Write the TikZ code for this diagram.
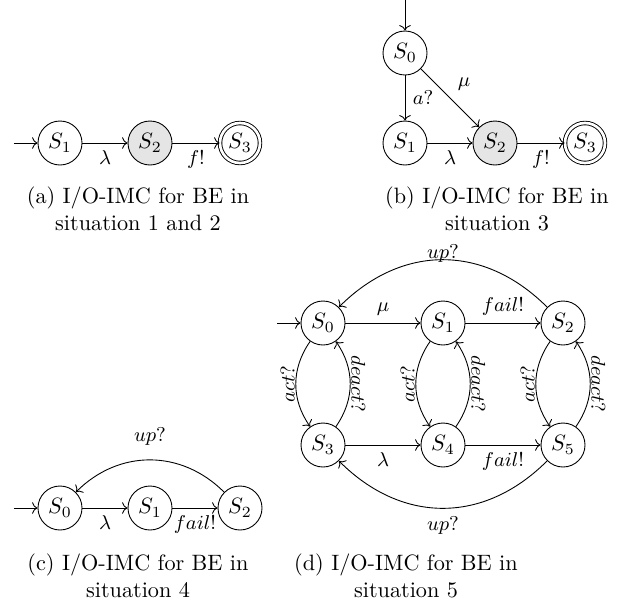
\documentclass[tikz,border=0pt]{standalone}
\usepackage{amsmath}
\usetikzlibrary{arrows.meta,positioning}

\begin{document}
\begin{tikzpicture}[
  x=0.45pt,y=-0.45pt,
  state/.style={draw,circle,minimum size=19.8pt,inner sep=0pt},
  hit/.style={state,fill=black!10},
  final/.style={state,double,double distance=1.2pt,minimum size=18pt},
  arr/.style={->},
  lbl/.style={font=\small},
  vlbl/.style={font=\small,anchor=south,inner sep=0.3pt},
  subcap/.style={align=center},
  on grid,node distance=40.5pt
]
\useasboundingbox (0,0) rectangle (622,600);

\node[state] (a1) at (60,143) {$S_1$};
\node[hit,right=of a1] (a2) {$S_2$};
\node[final,right=of a2] (a3) {$S_3$};
\coordinate[left=20.7pt of a1] (ain);
\draw[arr] (ain) -- (a1);
\draw[arr] (a1) -- node[lbl,below]{$\lambda$} (a2);
\draw[arr] (a2) -- node[lbl,below]{$f!$} (a3);
\node[subcap] (capa) at (138,209) {(a) I/O-IMC for BE in\\situation 1 and 2};

\node[state] (b0) at (405,53) {$S_0$};
\node[state,below=of b0] (b1) {$S_1$};
\node[hit,right=of b1] (b2) {$S_2$};
\node[final,right=of b2] (b3) {$S_3$};
\coordinate[above=23.85pt of b0] (bin);
\draw[arr] (bin) -- (b0);
\draw[arr] (b0) -- node[lbl,right]{$a?$} (b1);
\draw[arr] (b0) -- node[lbl,above right]{$\mu$} (b2);
\draw[arr] (b1) -- node[lbl,below]{$\lambda$} (b2);
\draw[arr] (b2) -- node[lbl,below]{$f!$} (b3);
\node[subcap] (capb) at (497,209) {(b) I/O-IMC for BE in\\situation 3};

\node[state] (c0) at (60,508) {$S_0$};
\node[state,right=of c0] (c1) {$S_1$};
\node[state,right=of c1] (c2) {$S_2$};
\coordinate[left=20.7pt of c0] (cin);
\draw[arr] (cin) -- (c0);
\draw[arr] (c0) -- node[lbl,below]{$\lambda$} (c1);
\draw[arr] (c1) -- node[lbl,below]{$fail!$} (c2);
\draw[arr] (c2) to[bend right=45,looseness=1.05] node[lbl,above=3pt]{$up?$} (c0);
\node[subcap] (capc) at (138,576) {(c) I/O-IMC for BE in\\situation 4};

\node[state] (d0) at (323,323) {$S_0$};
\node[state,right=54pt of d0] (d1) {$S_1$};
\node[state,right=54pt of d1] (d2) {$S_2$};
\node[state,below=54.9pt of d0] (d3) {$S_3$};
\node[state,right=54pt of d3] (d4) {$S_4$};
\node[state,right=54pt of d4] (d5) {$S_5$};
\coordinate[left=20.7pt of d0] (din);
\draw[arr] (din) -- (d0);
\draw[arr] (d0) -- node[lbl,above]{$\mu$} (d1);
\draw[arr] (d1) -- node[lbl,above]{$fail!$} (d2);
\draw[arr] (d3) -- node[lbl,below]{$\lambda$} (d4);
\draw[arr] (d4) -- node[lbl,below]{$fail!$} (d5);
\foreach \t/\b in {d0/d3,d1/d4,d2/d5}{
  \draw[arr] (\t) to[bend right=35] node[vlbl,rotate=90]{$act?$} (\b);
  \draw[arr] (\b) to[bend right=35] node[vlbl,rotate=-90]{$deact?$} (\t);
}
\draw[arr] (d2) to[bend right=45,looseness=1.1] node[lbl,above,inner sep=0pt,yshift=-1.5pt]{$up?$} (d0);
\draw[arr] (d5) to[bend left=45,looseness=1.1] node[lbl,below]{$up?$} (d3);
\node[subcap] (capd) at (406,576) {(d) I/O-IMC for BE in\\situation 5};
\end{tikzpicture}
\end{document}
